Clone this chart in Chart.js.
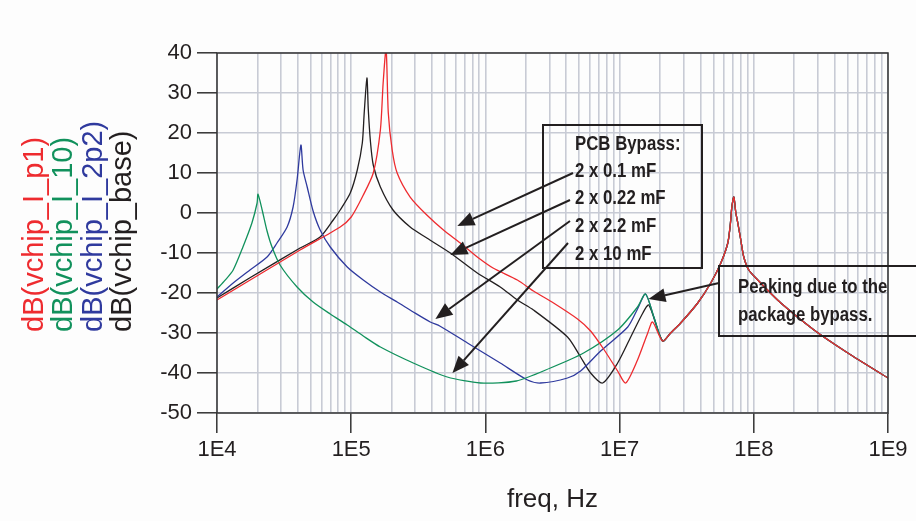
<!DOCTYPE html>
<html>
<head>
<meta charset="utf-8">
<script src="https://cdn.jsdelivr.net/npm/chart.js@4.4.1/dist/chart.umd.min.js"></script>
<style>
    html, body { margin: 0; padding: 0; background: #fdfdfd; }
    #wrap { position: relative; width: 916px; height: 521px; }
</style>
</head>
<body>
<div id="wrap"><canvas id="chart"></canvas></div>
<script>
/**
 * vchip impedance vs frequency, four PCB bypass options
 */

// axis ticks
const X_DECADES = [4, 5, 6, 7, 8, 9];
const Y_MIN = -50;
const Y_MAX = 40;
const Y_STEP = 10;

// legend labels (left, rotated)
const SERIES_LABELS = ['dB(vchip_I_p1)', 'dB(vchip_I_10)', 'dB(vchip_I_2p2)', 'dB(vchip_base)'];

// shared high-frequency part (package resonance), all four curves overlap
const tailFreq = [2.09e7, 2.4e7, 2.85e7, 3.82e7, 4.78e7, 5.68e7, 6.4e7, 6.7e7, 6.86e7, 7.1e7, 7.35e7, 7.6e7, 8.0e7, 8.42e7, 9.18e7, 1.07e8, 1.59e8, 2.81e8, 5.02e8, 1e9];
const tailDb   = [-32, -30, -27.5, -22.5, -17.5, -12.5, -7.5, -2.5, 1.5, 4, 0, -2.5, -6.75, -11, -14.25, -16.75, -22.5, -29.25, -35, -41.25];

// 2 x 0.1 mF
const p1Freq = [1e4, 4.16e4, 8.28e4, 1.0e5, 1.21e5, 1.46e5, 1.65e5, 1.73e5, 1.82e5, 1.89e5, 2.02e5, 2.2e5, 2.75e5, 3.66e5, 4.87e5, 6.5e5, 8.7e5, 1.14e6, 1.73e6, 2.28e6, 3.22e6, 4.86e6, 6.08e6, 7.6e6, 9.67e6, 1.11e7, 1.36e7, 1.62e7, 1.76e7];
const p1Db   = [-21.75, -9.25, -3.5, -1, 4, 10, 20.75, 32.5, 41, 25, 15.75, 10, 4, -0.5, -4.25, -7.5, -11, -13.75, -16.75, -19.5, -22.5, -26.5, -29.5, -34, -39.5, -42.5, -36.75, -30, -27.25];

// 2 x 10 mF
const c10Freq = [1e4, 1.15e4, 1.32e4, 1.56e4, 1.82e4, 1.99e4, 2.02e4, 2.17e4, 2.36e4, 2.57e4, 2.95e4, 3.95e4, 5.2e4, 6.98e4, 9.34e4, 1.23e5, 1.65e5, 2.9e5, 5.2e5, 9.2e5, 1.7e6, 3.05e6, 5.39e6, 9.67e6, 1.36e7, 1.56e7, 1.8e7];
const c10Db   = [-19, -16.8, -14.25, -8.5, -2.5, 2.5, 4.7, 0.75, -4.5, -8.5, -13, -18.5, -22.25, -25.25, -28, -30.75, -33.5, -37.5, -41, -42.5, -42, -38.75, -35, -29.25, -23.5, -20.25, -26];

// 2 x 2.2 mF
const c2p2Freq = [1e4, 1.32e4, 1.76e4, 2.36e4, 2.8e4, 3.33e4, 3.69e4, 3.95e4, 4.22e4, 4.38e4, 4.7e4, 5.2e4, 5.87e4, 6.98e4, 9.34e4, 1.23e5, 1.65e5, 2.2e5, 2.9e5, 3.88e5, 4.6e5, 7.35e5, 1.29e6, 2.06e6, 2.57e6, 4.09e6, 5.12e6, 7.22e6, 1.15e7, 1.36e7, 1.56e7, 1.8e7];
const c2p2Db   = [-21, -17.5, -14.25, -11, -7.5, -3.5, 1.5, 8.25, 17, 10.75, 6.5, 0.5, -4.25, -8.5, -13.5, -16.75, -19.75, -22.25, -24.75, -27.25, -28.3, -32.5, -37.5, -41.75, -42.5, -41.25, -39.5, -34.5, -28.5, -24, -20.25, -26];

// 2 x 0.22 mF (base)
const baseFreq = [1e4, 1.76e4, 4.16e4, 5.87e4, 7.35e4, 8.28e4, 9.84e4, 1.11e5, 1.21e5, 1.25e5, 1.31e5, 1.34e5, 1.39e5, 1.46e5, 1.65e5, 2.05e5, 2.75e5, 3.66e5, 5.48e5, 8.7e5, 1.29e6, 1.73e6, 2.28e6, 4.09e6, 5.12e6, 6.08e6, 7.47e6, 9.67e6, 1.21e7, 1.49e7, 1.65e7];
const baseDb   = [-21.25, -16.2, -8.75, -6, -1.75, 0.75, 5, 10.75, 17.5, 25, 33.75, 26, 18, 12, 6.5, 0.75, -3.5, -6.25, -10, -15, -18.5, -21.75, -24.25, -31, -36, -40, -42.5, -37.5, -31, -25, -23];

// annotation text
const BYPASS_NOTE = ['PCB Bypass:', '2 x 0.1 mF', '2 x 0.22 mF', '2 x 2.2 mF', '2 x 10 mF'];
const PEAK_NOTE = ['Peaking due to the', 'package bypass.'];
// arrow targets in data space [freq, dB]
const BYPASS_TARGETS = [[6.18e5, -3.25], [5.48e5, -10.5], [4.24e5, -26.5], [5.68e5, -40]];
const PEAK_TARGET = [1.64e7, -21.5];

const COLORS = {
    red: '#ee2b2f',
    green: '#11915c',
    blue: '#2f3a9e',
    black: '#231f20',
    grid: '#c8cbd5',
    axis: '#333333',
};
const SERIES_COLORS = [COLORS.red, COLORS.green, COLORS.blue, COLORS.black];
const NOTE_FONT = 'bold 20px "Liberation Sans", Arial, sans-serif';
const NOTE_SQUEEZE = 0.84;   // condensed look

function toPoints(freqs, dbs) {
    return freqs.map((f, i) => ({ x: f, y: dbs[i] }));
}

function isDecade(v) {
    const e = Math.log10(v);
    return Math.abs(e - Math.round(e)) < 1e-9;
}

function drawNote(ctx, text, x, y) {
    ctx.save();
    ctx.translate(x, y);
    ctx.scale(NOTE_SQUEEZE, 1);
    ctx.fillText(text, 0, 0);
    ctx.restore();
}

function drawArrow(ctx, x1, y1, x2, y2) {
    const ang = Math.atan2(y2 - y1, x2 - x1);
    const len = 17, half = 7;
    const bx = x2 - len * Math.cos(ang);
    const by = y2 - len * Math.sin(ang);
    ctx.beginPath();
    ctx.moveTo(x1, y1);
    ctx.lineTo(bx, by);
    ctx.stroke();
    ctx.beginPath();
    ctx.moveTo(x2, y2);
    ctx.lineTo(bx + half * Math.sin(ang), by - half * Math.cos(ang));
    ctx.lineTo(bx - half * Math.sin(ang), by + half * Math.cos(ang));
    ctx.closePath();
    ctx.fill();
}

// frame, rotated legend, note boxes and arrows
const notesPlugin = {
    id: 'notes',
    afterDraw(chart) {
        const ctx = chart.ctx;
        const { left, right, top, bottom } = chart.chartArea;
        const xs = chart.scales.x;
        const ys = chart.scales.y;
        ctx.save();

        ctx.strokeStyle = COLORS.axis;
        ctx.lineWidth = 1.5;
        ctx.strokeRect(left, top, right - left, bottom - top);

        // legend, read bottom to top
        ctx.font = '29px "Liberation Sans", Arial, sans-serif';
        ctx.textAlign = 'left';
        ctx.textBaseline = 'alphabetic';
        SERIES_LABELS.forEach((label, i) => {
            ctx.save();
            ctx.translate(43 + i * 29.3, 332);
            ctx.rotate(-Math.PI / 2);
            ctx.fillStyle = SERIES_COLORS[i];
            ctx.fillText(label, 0, 0);
            ctx.restore();
        });

        ctx.strokeStyle = COLORS.black;
        ctx.fillStyle = COLORS.black;
        ctx.lineWidth = 2;

        // PCB bypass box
        ctx.strokeRect(543, 125, 159, 143);
        ctx.font = NOTE_FONT;
        const lineY = [150, 177, 204, 232, 260];
        BYPASS_NOTE.forEach((t, i) => drawNote(ctx, t, 575, lineY[i]));
        const starts = [[573, 173], [570, 200], [570, 221], [568, 243]];
        BYPASS_TARGETS.forEach((p, i) => {
            drawArrow(ctx, starts[i][0], starts[i][1], xs.getPixelForValue(p[0]), ys.getPixelForValue(p[1]));
        });

        // package peaking box
        ctx.strokeRect(719, 266, 230, 70);
        drawNote(ctx, PEAK_NOTE[0], 738, 293);
        drawNote(ctx, PEAK_NOTE[1], 738, 321);
        drawArrow(ctx, 719, 283, xs.getPixelForValue(PEAK_TARGET[0]), ys.getPixelForValue(PEAK_TARGET[1]));

        ctx.restore();
    },
};

function makeSeries(label, freqs, dbs, color) {
    return {
        label: label,
        data: toPoints(freqs, dbs),
        borderColor: color,
        borderWidth: 1.3,
        pointRadius: 0,
        tension: 0.25,
        fill: false,
    };
}

new Chart(document.getElementById('chart'), {
    type: 'line',
    data: {
        datasets: [
            makeSeries(SERIES_LABELS[0], p1Freq.concat(tailFreq), p1Db.concat(tailDb), COLORS.red),
            makeSeries(SERIES_LABELS[1], c10Freq.concat(tailFreq), c10Db.concat(tailDb), COLORS.green),
            makeSeries(SERIES_LABELS[2], c2p2Freq.concat(tailFreq), c2p2Db.concat(tailDb), COLORS.blue),
            makeSeries(SERIES_LABELS[3], baseFreq.concat(tailFreq), baseDb.concat(tailDb), COLORS.black),
        ],
    },
    options: {
        responsive: true,
        maintainAspectRatio: false,
        animation: false,
        layout: { padding: { left: 0, top: 53, right: 28, bottom: 0 } },
        plugins: {
            legend: { display: false },
            tooltip: { enabled: false },
        },
        scales: {
            x: {
                type: 'logarithmic',
                min: Math.pow(10, X_DECADES[0]),
                max: Math.pow(10, X_DECADES[X_DECADES.length - 1]),
                afterBuildTicks: (axis) => {
                    const ticks = [];
                    X_DECADES.forEach((d, i) => {
                        const last = i === X_DECADES.length - 1;
                        for (let m = 1; m <= (last ? 1 : 9); m++) {
                            ticks.push({ value: m * Math.pow(10, d) });
                        }
                    });
                    axis.ticks = ticks;
                },
                afterFit: (axis) => { axis.height = 108; },
                border: { display: false },
                grid: {
                    color: COLORS.grid,
                    lineWidth: 1.6,
                    tickLength: 20,
                    tickWidth: 1.5,
                    tickColor: (c) => (c.tick && isDecade(c.tick.value) ? COLORS.axis : 'rgba(0,0,0,0)'),
                },
                ticks: {
                    autoSkip: false,
                    maxRotation: 0,
                    padding: 4,
                    color: COLORS.black,
                    font: { family: '"Liberation Sans", Arial, sans-serif', size: 22 },
                    callback: (v) => (isDecade(v) ? '1E' + Math.round(Math.log10(v)) : ''),
                },
                title: {
                    display: true,
                    text: 'freq, Hz',
                    color: COLORS.black,
                    font: { family: '"Liberation Sans", Arial, sans-serif', size: 26 },
                    padding: { top: 0, bottom: 6 },
                },
            },
            y: {
                min: Y_MIN,
                max: Y_MAX,
                afterFit: (axis) => { axis.width = 217; },
                border: { display: false },
                grid: {
                    color: COLORS.grid,
                    lineWidth: 1.6,
                    tickLength: 20,
                    tickWidth: 1.5,
                    tickColor: COLORS.axis,
                },
                ticks: {
                    stepSize: Y_STEP,
                    padding: 5,
                    color: COLORS.black,
                    font: { family: '"Liberation Sans", Arial, sans-serif', size: 22 },
                },
            },
        },
    },
    plugins: [notesPlugin],
});
</script>
</body>
</html>
